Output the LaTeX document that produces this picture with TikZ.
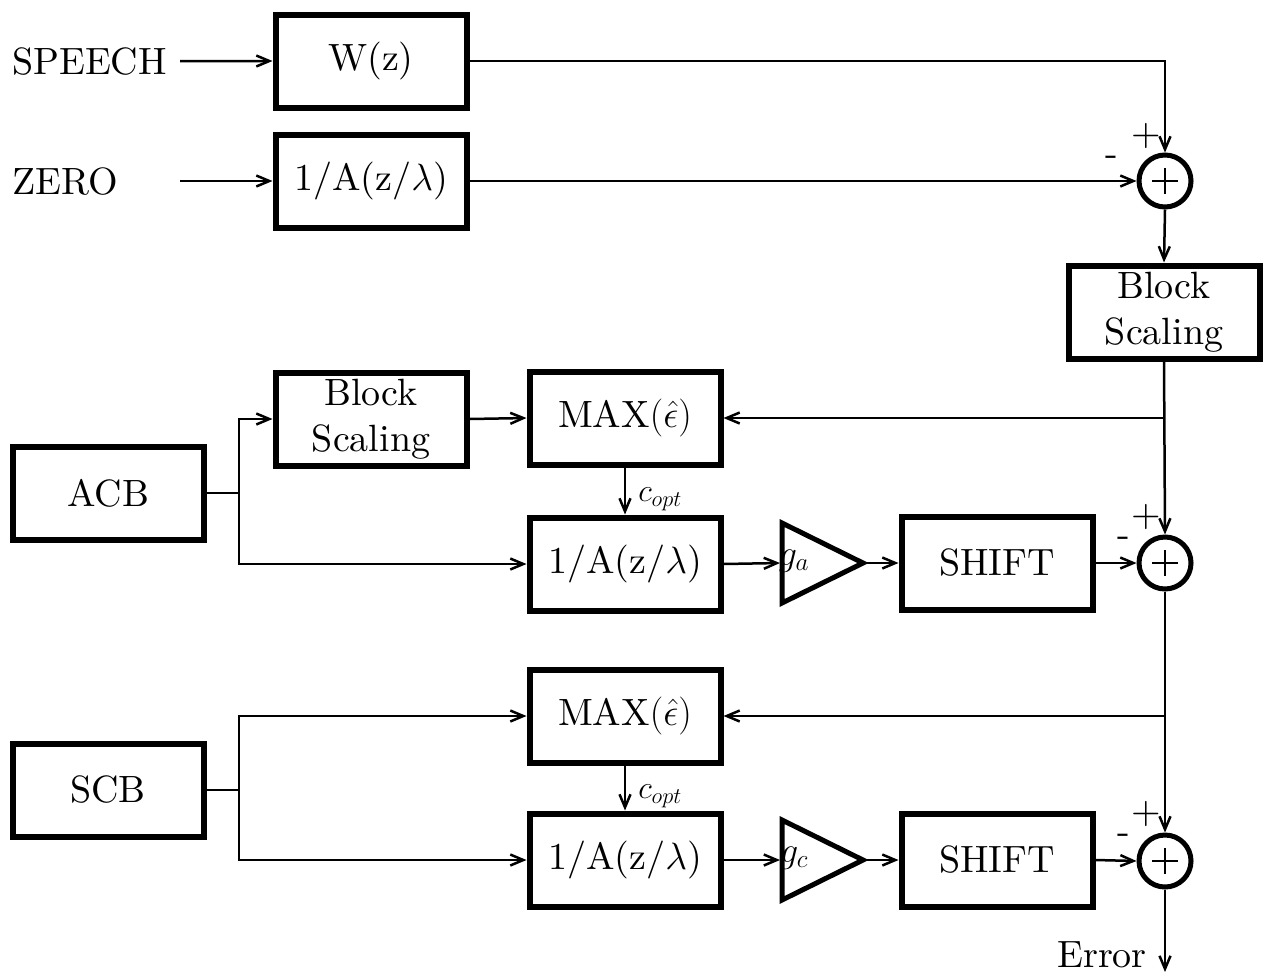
\RequirePackage{fix-cm}
\documentclass[tikz,border=0pt]{standalone}
\usepackage{fontspec}
\setmainfont{lmroman10-regular}[Extension=.otf]
\usetikzlibrary{arrows.meta}
\begin{document}
\begin{tikzpicture}[x=1pt,y=-1pt,
  blk/.style={draw, line width=6pt, minimum width=191pt, minimum height=93pt, inner sep=0pt, align=center, font=\fontsize{38}{46}\selectfont},
  lbl/.style={inner sep=0pt, font=\fontsize{38}{46}\selectfont},
  sml/.style={inner sep=0pt, font=\fontsize{32}{36}\selectfont},
  gain/.style={inner sep=0pt, font=\fontsize{36}{40}\selectfont},
  wire/.style={line width=2.5pt},
  arr/.style={line width=2.5pt, -{Straight Barb[length=13pt,width=11pt]}},
  amp/.style={line width=5pt, line join=miter},
  sum/.style={circle, draw, line width=5pt, minimum size=52pt, inner sep=0pt,
    path picture={\draw[line width=2.5pt]
      ([xshift=-13pt]path picture bounding box.center) -- ([xshift=13pt]path picture bounding box.center)
      ([yshift=-13pt]path picture bounding box.center) -- ([yshift=13pt]path picture bounding box.center);}}]
\useasboundingbox (0,0) rectangle (1265,975);

% inputs
\node[lbl, anchor=base west] (speech) at (12,74) {SPEECH};
\node[lbl, anchor=base west] (zero) at (12,194) {ZERO};

% blocks
\node[blk] (W) at (371,61) {W(z)};
\node[blk] (A0) at (371,181) {1/A(z/$\lambda$)};
\node[sum] (s1) at (1165,181) {};
\node[blk] (BSr) at (1164,312) {Block\\Scaling};

\node[blk] (BSl) at (371,419) {Block\\Scaling};
\node[blk] (M1) at (625,418) {MAX$(\hat\epsilon)$};
\node[blk] (ACB) at (108,493) {ACB};
\node[blk] (A1) at (625,564) {1/A(z/$\lambda$)};
\node[blk] (SH1) at (997,563) {SHIFT};
\node[sum] (s2) at (1165,563) {};

\node[blk] (M2) at (625,716) {MAX$(\hat\epsilon)$};
\node[blk] (SCB) at (108,790) {SCB};
\node[blk] (A2) at (625,860) {1/A(z/$\lambda$)};
\node[blk] (SH2) at (997,860) {SHIFT};
\node[sum] (s3) at (1165,861) {};

% amplifiers
\draw[amp] (782,523) -- (782,603) -- (863,563) -- cycle;
\coordinate (ga) at (780,563);
\coordinate (gaout) at (865,563);
\node[gain] (galbl) at (794,561) {$g_a$};
\draw[amp] (782,820) -- (782,900) -- (863,860) -- cycle;
\coordinate (gc) at (780,860);
\coordinate (gcout) at (865,860);
\node[gain] (gclbl) at (794,858) {$g_c$};

% signs
\node[lbl] (p1) at (1146,136) {+};
\node[lbl] (n1) at (1112,161) {-};
\node[lbl] (p2) at (1146,517) {+};
\node[lbl] (n2) at (1124,542) {-};
\node[lbl] (p3) at (1146,814) {+};
\node[lbl] (n3) at (1124,839) {-};

% error output
\node[lbl, anchor=base east] (err) at (1147,967) {Error};
\coordinate (errend) at (1165,972);

% junctions
\coordinate (j1) at (239,493);
\coordinate (j2) at (239,790);

% connectors
\draw[arr, shorten <=13pt] (speech.east) -- (W.west);
\draw[arr] (180,181) -- (A0.west);
\draw[arr] (W.east) -| (s1.north);
\draw[arr] (A0.east) -- (s1.west);
\draw[arr] (s1.south) -- (BSr.north);
\draw[arr] (BSr.south) -- (s2.north);
\draw[arr] (BSr.south |- M1.east) -- (M1.east);

\draw[wire] (ACB.east) -- (j1);
\draw[arr] (j1) |- (BSl.west);
\draw[arr] (j1) |- (A1.west);
\draw[arr] (BSl.east) -- (M1.west);
\draw[arr] (M1.south) -- node[sml, pos=0.68, anchor=west, xshift=12pt] {$c_{opt}$} (A1.north);
\draw[arr] (A1.east) -- (ga);
\draw[arr] (gaout) -- (SH1.west);
\draw[arr] (SH1.east) -- (s2.west);
\draw[arr] (s2.south) -- (s3.north);
\draw[arr] (s2.south |- M2.east) -- (M2.east);

\draw[wire] (SCB.east) -- (j2);
\draw[arr] (j2) |- (M2.west);
\draw[arr] (j2) |- (A2.west);
\draw[arr] (M2.south) -- node[sml, pos=0.68, anchor=west, xshift=12pt] {$c_{opt}$} (A2.north);
\draw[arr] (A2.east) -- (gc);
\draw[arr] (gcout) -- (SH2.west);
\draw[arr] (SH2.east) -- (s3.west);
\draw[arr] (s3.south) -- (errend);
\end{tikzpicture}
\end{document}
